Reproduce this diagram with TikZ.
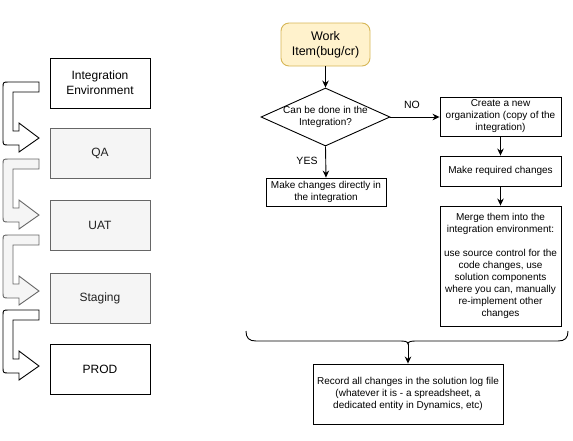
\documentclass[tikz,border=0pt]{standalone}
\usepackage{fontspec}
\setmainfont{Liberation Sans}
\usetikzlibrary{shapes.geometric,arrows.meta}
\definecolor{wifill}{HTML}{FFF2CC}
\definecolor{wistroke}{HTML}{D6B656}
\definecolor{gfill}{HTML}{F5F5F5}
\definecolor{gstroke}{HTML}{666666}
\definecolor{gtext}{HTML}{222222}
\tikzset{
  envbox/.style={draw=black, fill=white, line width=0.9pt, minimum width=100pt, minimum height=50pt, inner sep=0pt, align=center, font=\fontsize{12}{15}\selectfont},
  grayenv/.style={envbox, draw=gstroke, fill=gfill, text=gtext},
  flowbox/.style={draw=black, fill=white, line width=0.9pt, inner sep=0pt, align=center, font=\fontsize{10}{12}\selectfont},
  lbl/.style={font=\fontsize{10.5}{12}\selectfont, inner sep=0pt},
  conn/.style={line width=0.9pt, -{Stealth[length=7pt,width=6.5pt]}},
  bentshape/.style={line width=0.9pt, line join=miter},
  bent/.pic={
    \path[pic actions] (39,0) -- (9,0) .. controls (3,0) .. (3,6) -- (3,57)
      .. controls (3,63) .. (9,63) -- (19,63) -- (19,70) -- (39,56) -- (19,41)
      -- (19,49) -- (13,49) -- (13,10) -- (39,10) -- cycle;
  }
}
\begin{document}
\begin{tikzpicture}[x=1pt, y=-1pt]
\useasboundingbox (0,0) rectangle (573,440);
% left column
\node[envbox] (intenv) at (100,83) {Integration\\Environment};
\node[grayenv] (qa) at (100,153) {QA};
\node[grayenv] (uat) at (100,225) {UAT};
\node[grayenv] (staging) at (100,298) {Staging};
\node[envbox] (prod) at (100,369) {PROD};
% bent arrows
\pic[draw=black, fill=white, bentshape] at (0,82) {bent};
\pic[draw=gstroke, fill=gfill, bentshape] at (0,159) {bent};
\pic[draw=gstroke, fill=gfill, bentshape] at (0,235) {bent};
\pic[draw=black, fill=white, bentshape] at (0,310) {bent};
% right flow
\node[draw=wistroke, fill=wifill, line width=0.9pt, rounded corners=8pt, minimum width=89pt, minimum height=43pt, inner sep=0pt, align=center, font=\fontsize{12.5}{15}\selectfont] (work) at (325.5,44.5) {Work\\Item(bug/cr)};
\node[diamond, draw=black, fill=white, line width=0.9pt, minimum width=129pt, minimum height=58pt, inner sep=0pt] (dec) at (325.5,117) {};
\node[flowbox, draw=none, fill=none] (dectext) at (dec.center) {Can be done in the\\Integration?};
\node[flowbox, minimum width=121pt, minimum height=39pt] (create) at (500.5,116.5) {Create a new\\organization (copy of the\\integration)};
\node[flowbox, minimum width=121pt, minimum height=30pt] (req) at (500.5,171) {Make required changes};
\node[flowbox, minimum width=121pt, minimum height=120pt] (merge) at (500.5,266) {Merge them into the\\integration environment:\\[12pt]use source control for the\\code changes, use\\solution components\\where you can, manually\\re-implement other\\changes};
\node[flowbox, minimum width=120pt, minimum height=28pt] (direct) at (326,192) {Make changes directly in\\the integration};
\node[flowbox, minimum width=190pt, minimum height=60pt] (record) at (408,394) {Record all changes in the solution log file\\(whatever it is - a spreadsheet, a\\dedicated entity in Dynamics, etc)};
% connectors
\draw[conn] (work.south) -- (dec.north);
\draw[conn] (dec.east) -- (dec.east -| create.west);
\draw[conn] (dec.south) -- (direct.north);
\draw[conn] (create.south) -- (req.north);
\draw[conn] (req.south) -- (merge.north);
\node[lbl] (nolbl) at (412,105) {NO};
\node[lbl] (yeslbl) at (307,161) {YES};
% brace
\coordinate (brtip) at (408,344);
\draw[line width=0.9pt] (246,331) .. controls (246,338) and (249,341) .. (256,341)
  -- (398,341) .. controls (404,341) and (408,341) .. (brtip)
  .. controls (408,341) and (412,341) .. (418,341)
  -- (558,341) .. controls (565,341) and (568,338) .. (568,331);
\draw[conn] (brtip) -- (record.north);
\end{tikzpicture}
\end{document}
